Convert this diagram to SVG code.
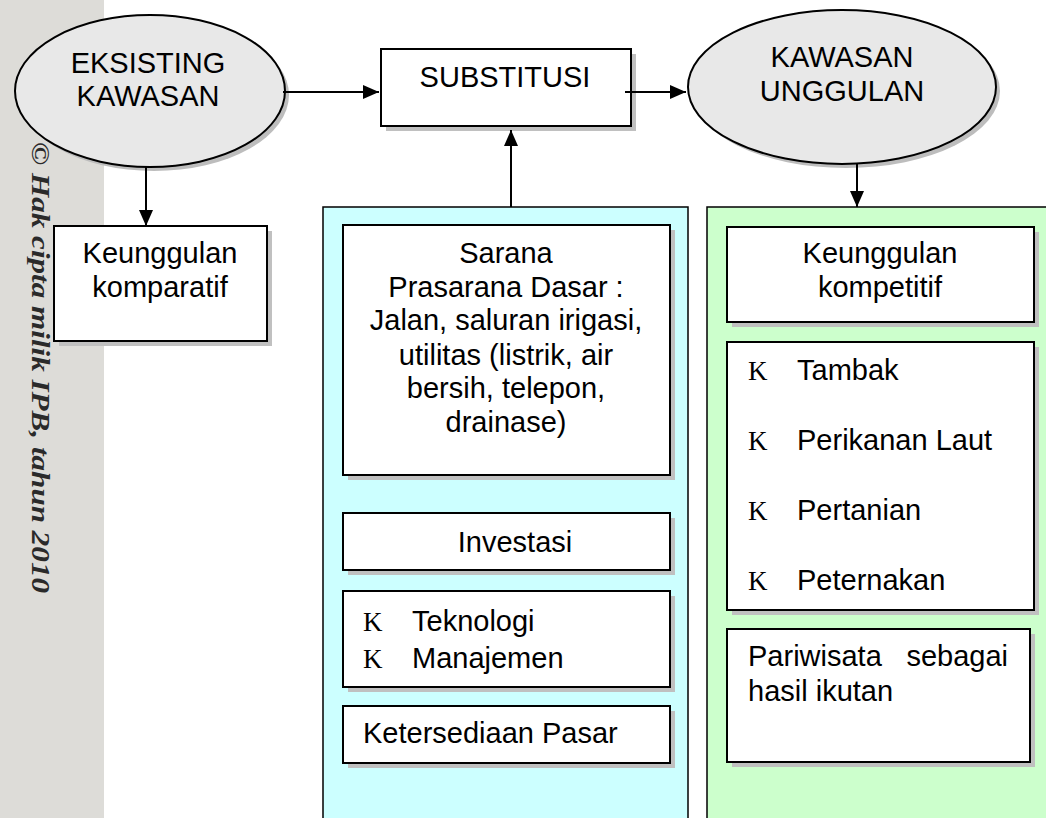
<svg xmlns="http://www.w3.org/2000/svg" width="1046" height="818" viewBox="0 0 1046 818">
<style>
.t{font-family:"Liberation Sans",Arial,sans-serif;font-size:29px;fill:#000}
.c{text-anchor:middle}
.k{font-family:"Liberation Serif","Times New Roman",serif;font-size:27px;fill:#000}
.box{fill:#fff;stroke:#000;stroke-width:2}
.sh{fill:#c0c0c0}
.ell{fill:#e8e8e8;stroke:#000;stroke-width:2}
.esh{fill:#bdbdbd}
.ln{stroke:#000;stroke-width:2;fill:none}
</style>
<defs>
<marker id="ah" markerUnits="userSpaceOnUse" markerWidth="16" markerHeight="16" viewBox="0 0 16 16" refX="16" refY="8" orient="auto">
<path d="M0,1 L16,8 L0,15 Z" fill="#000"/>
</marker>
</defs>
<rect x="0" y="0" width="1046" height="818" fill="#fff"/>
<g id="watermark">
<rect x="0" y="0" width="104" height="818" fill="#dddcd8"/>
<text x="142" y="-32" transform="rotate(90)" font-family="Liberation Serif,'Times New Roman',serif" font-size="25" font-weight="bold" font-style="italic" fill="#2a2a2a" textLength="451" lengthAdjust="spacingAndGlyphs">© Hak cipta milik IPB, tahun 2010</text>
</g>
<g id="panel-blue">
<rect x="323" y="207" width="365" height="620" fill="#ccffff" stroke="#000" stroke-width="1.5"/>
</g>
<g id="panel-green">
<rect x="707" y="207" width="360" height="620" fill="#ccffcc" stroke="#000" stroke-width="1.5"/>
</g>
<g id="eksisting">
<ellipse cx="154" cy="95" rx="135" ry="76" class="esh"/>
<ellipse cx="150" cy="91" rx="135" ry="76" class="ell"/>
<text class="t c" x="148" y="73">EKSISTING</text>
<text class="t c" x="148" y="106">KAWASAN</text>
</g>
<g id="substitusi">
<rect x="386" y="54" width="250" height="77" class="sh"/>
<rect x="381" y="49" width="250" height="77" class="box"/>
<text class="t c" x="505" y="87">SUBSTITUSI</text>
</g>
<g id="kawasan-unggulan">
<ellipse cx="846" cy="91" rx="154" ry="77" class="esh"/>
<ellipse cx="842" cy="87" rx="154" ry="77" class="ell"/>
<text class="t c" x="842" y="67">KAWASAN</text>
<text class="t c" x="842" y="101">UNGGULAN</text>
</g>
<g id="komparatif">
<rect x="59" y="231" width="213" height="115" class="sh"/>
<rect x="54" y="226" width="213" height="115" class="box"/>
<text class="t c" x="160" y="263">Keunggulan</text>
<text class="t c" x="160" y="297">komparatif</text>
</g>
<g id="sarana">
<rect x="348" y="230" width="327" height="250" class="sh"/>
<rect x="343" y="225" width="327" height="250" class="box"/>
<text class="t c" x="506" y="263">Sarana</text>
<text class="t c" x="506" y="297">Prasarana Dasar :</text>
<text class="t c" x="506" y="330">Jalan, saluran irigasi,</text>
<text class="t c" x="506" y="365">utilitas (listrik, air</text>
<text class="t c" x="506" y="398">bersih, telepon,</text>
<text class="t c" x="506" y="432">drainase)</text>
</g>
<g id="investasi">
<rect x="348" y="518" width="327" height="57" class="sh"/>
<rect x="343" y="513" width="327" height="57" class="box"/>
<text class="t c" x="515" y="552">Investasi</text>
</g>
<g id="teknologi">
<rect x="348" y="596" width="327" height="96" class="sh"/>
<rect x="343" y="591" width="327" height="96" class="box"/>
<text class="k" x="363" y="631">K</text>
<text class="t" x="412" y="631">Teknologi</text>
<text class="k" x="363" y="668">K</text>
<text class="t" x="412" y="668">Manajemen</text>
</g>
<g id="pasar">
<rect x="348" y="711" width="327" height="57" class="sh"/>
<rect x="343" y="706" width="327" height="57" class="box"/>
<text class="t" x="363" y="743">Ketersediaan Pasar</text>
</g>
<g id="kompetitif">
<rect x="732" y="232" width="307" height="95" class="sh"/>
<rect x="727" y="227" width="307" height="95" class="box"/>
<text class="t c" x="880" y="263">Keunggulan</text>
<text class="t c" x="880" y="297">kompetitif</text>
</g>
<g id="sektor">
<rect x="732" y="347" width="307" height="268" class="sh"/>
<rect x="727" y="342" width="307" height="268" class="box"/>
<text class="k" x="748" y="380">K</text>
<text class="t" x="797" y="380">Tambak</text>
<text class="k" x="748" y="450">K</text>
<text class="t" x="797" y="450">Perikanan Laut</text>
<text class="k" x="748" y="520">K</text>
<text class="t" x="797" y="520">Pertanian</text>
<text class="k" x="748" y="590">K</text>
<text class="t" x="797" y="590">Peternakan</text>
</g>
<g id="pariwisata">
<rect x="732" y="634" width="303" height="133" class="sh"/>
<rect x="727" y="629" width="303" height="133" class="box"/>
<text class="t" x="748" y="666">Pariwisata</text>
<text class="t" x="1008" y="666" text-anchor="end">sebagai</text>
<text class="t" x="748" y="701">hasil ikutan</text>
</g>
<g id="connectors">
<line x1="283" y1="92" x2="379" y2="92" class="ln" marker-end="url(#ah)"/>
<line x1="625" y1="92" x2="686" y2="92" class="ln" marker-end="url(#ah)"/>
<line x1="146" y1="167" x2="146" y2="226" class="ln" marker-end="url(#ah)"/>
<line x1="511" y1="207" x2="511" y2="130" class="ln" marker-end="url(#ah)"/>
<line x1="857" y1="164" x2="857" y2="207" class="ln" marker-end="url(#ah)"/>
</g>
</svg>
